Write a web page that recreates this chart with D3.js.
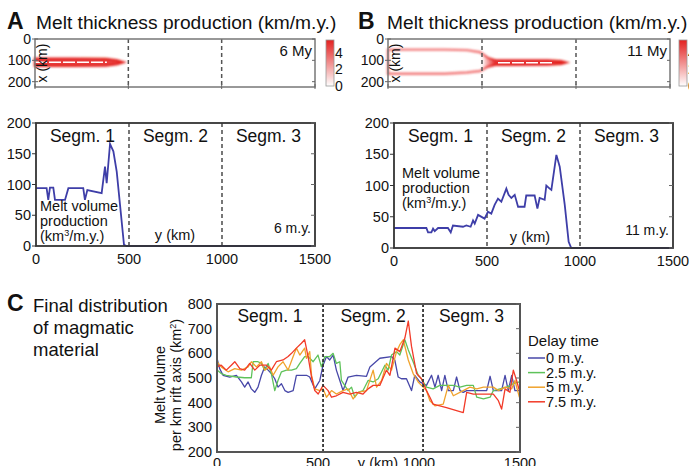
<!DOCTYPE html>
<html lang="en">
<head>
<meta charset="UTF-8"/>
<title>Melt production along the rift</title>
<script src="https://cdn.jsdelivr.net/npm/d3@7"></script>
<style>
  body { margin: 0; background: #fff; }
  text { font-family: "Liberation Sans", Arial, sans-serif; fill: #111; }
</style>
</head>
<body>
<script>

var w = 689, h = 466;

// melt volume production along the axis (km3/m.y.) at 6 and 11 m.y.
var volA_y = [0, 57, 66, 75, 93, 102, 156, 174, 254, 263, 276, 353, 371, 380, 398, 416, 434, 452, 473, 487, 1500];
var volA_v = [94, 94, 75, 95, 95, 75, 75, 94, 94, 75, 91, 86, 129, 102, 166, 154, 121, 66, 2, 0, 0];

var volB_y = [0, 174, 183, 201, 210, 219, 237, 290, 305, 317, 371, 389, 412, 425, 434, 452, 487, 505, 523, 541,
              559, 577, 604, 616, 631, 649, 667, 702, 711, 756, 771, 783, 810, 819, 837, 846, 873, 891, 918, 939, 953, 1500];
var volB_v = [32, 32, 25, 25, 31, 27, 32, 32, 25, 36, 34, 36, 34, 44, 39, 53, 47, 58, 55, 69,
              79, 74, 95, 85, 80, 85, 66, 66, 84, 84, 63, 80, 77, 100, 95, 93, 149, 130, 69, 10, 0, 0];

// melt band outline in the thickness maps (along-axis km, upper / lower edge in x km)
var bandA_y   = [0, 200, 380, 440, 472];
var bandA_top = [92, 92, 93, 100, 109];
var bandA_bot = [126, 126, 125, 118, 109];

var bandB_y   = [0, 300, 420, 490, 530, 570, 850, 920, 945];
var bandB_top = [50, 50, 52, 62, 88, 100, 101, 104, 110];
var bandB_bot = [163, 163, 157, 150, 130, 121, 120, 116, 110];

var segNames = ["Segm. 1", "Segm. 2", "Segm. 3"];
var segBounds = [500, 1000];
var segBoundsC = [525, 1020];

// final distribution of magmatic material (km2) for each delay time
var delayNames = ["0 m.y.", "2.5 m.y.", "5 m.y.", "7.5 m.y."];
var delayColors = ["#4747a8", "#5ec25a", "#f0a22c", "#f23a28"];

var c0_y = [0,13,30,63,96,121,137,154,170,187,203,220,236,253,269,286,302,319,336,352,377,393,443,459,484,509,525,542,558,575,
            591,608,624,649,690,740,757,806,864,880,897,913,938,963,979,1004,1037,1062,1079,1095,1112,1128,1145,1170,1186,1203,1219,1236,1335,1352,
            1368,1409,1426,1442,1459,1475,1497];
var c0_v = [580,538,511,504,511,484,463,484,456,442,463,511,545,532,518,497,463,477,449,442,449,511,511,504,456,490,552,587,573,593,
            532,490,449,504,511,507,545,580,587,573,504,497,497,449,511,484,470,511,463,511,449,511,449,449,504,449,442,449,449,507,
            449,449,511,449,511,449,449];

var c1_y = [0,21,46,96,137,170,179,203,220,236,253,269,286,302,319,344,369,393,410,434,451,476,500,517,534,558,575,591,608,616,
            632,649,666,682,699,723,748,773,798,831,847,864,889,905,930,947,971,996,1012,1037,1070,1103,1170,1203,1236,1269,1286,1319,1352,1368,
            1401,1434,1467,1497];
var c1_v = [532,518,511,504,501,501,566,566,559,532,559,518,449,490,525,532,532,538,559,587,587,566,593,545,587,587,600,559,566,490,
            470,449,463,422,442,449,490,484,497,552,532,593,607,593,655,614,566,511,497,463,456,470,470,463,470,470,422,415,422,449,
            456,463,477,484];

var c2_y = [0,21,55,88,121,154,170,195,220,236,261,278,302,327,352,377,393,410,434,443,459,468,484,509,525,542,567,591,624,649,
            674,699,740,773,790,815,839,864,889,905,922,947,971,996,1012,1037,1054,1079,1120,1145,1170,1219,1252,1286,1319,1368,1393,1426,1459,1475,
            1497];
var c2_v = [566,545,525,538,532,545,566,545,566,532,545,511,545,566,532,587,621,593,621,580,607,511,456,449,456,422,449,435,449,456,
            415,442,449,532,463,490,559,532,607,635,655,573,518,484,470,449,408,387,394,470,428,449,463,456,463,463,449,463,456,490,
            422];

var c3_y = [0,21,46,71,88,113,137,162,187,212,245,269,294,327,352,369,393,418,434,451,468,484,501,525,550,567,591,624,657,690,
            723,748,773,806,839,856,881,905,930,947,963,988,1012,1037,1054,1070,1136,1219,1236,1269,1368,1393,1409,1426,1450,1467,1483,1497];
var c3_v = [545,552,532,552,566,538,532,559,532,552,552,532,566,573,587,600,621,641,655,587,504,449,435,470,449,422,428,442,435,442,
            435,456,470,470,532,511,621,607,662,731,628,518,497,449,422,394,380,360,442,435,435,408,374,456,442,532,490,449];

var seriesY = [c0_y, c1_y, c2_y, c3_y];
var seriesV = [c0_v, c1_v, c2_v, c3_v];

var svg = d3.select("body").append("svg")
            .attr("width", w)
            .attr("height", h);

var defs = svg.append("defs");
defs.append("filter").attr("id", "glow")
    .attr("x", "-10%").attr("y", "-50%").attr("width", "120%").attr("height", "200%")
    .append("feGaussianBlur").attr("stdDeviation", 0.8);

var cbGrad = defs.append("linearGradient").attr("id", "cbGrad")
                 .attr("x1", 0).attr("y1", 1).attr("x2", 0).attr("y2", 0);
cbGrad.append("stop").attr("offset", "0%").attr("stop-color", "#ffffff");
cbGrad.append("stop").attr("offset", "100%").attr("stop-color", "#e3201f");

function pairs(ys, vs) {
  return ys.map(function(d, i) { return [d, vs[i]]; });
}

function title(x0, letter, txt) {
  svg.append("text").attr("x", x0).attr("y", 29)
     .style("font-size", "23px").style("font-weight", "bold").text(letter);
  svg.append("text").attr("x", x0 + 29).attr("y", 29)
     .style("font-size", "19.2px").text(txt);
}

// thickness map with melt band
function mapPanel(o) {
  var x = d3.scaleLinear().domain([0, 1500]).range([o.l, o.r]);
  var y = d3.scaleLinear().domain([0, 225]).range([o.t, o.b]);
  var g = svg.append("g");

  // band colour: pale where the band is wide, strong where it is narrow
  var gid = "band" + o.id;
  var grad = defs.append("linearGradient").attr("id", gid)
                 .attr("gradientUnits", "userSpaceOnUse")
                 .attr("x1", o.l).attr("x2", o.r).attr("y1", 0).attr("y2", 0);
  var fillGrad = defs.append("linearGradient").attr("id", gid + "f")
                 .attr("gradientUnits", "userSpaceOnUse")
                 .attr("x1", o.l).attr("x2", o.r).attr("y1", 0).attr("y2", 0);
  var f0 = o.fade ? (x(o.fade[0]) - o.l) / (o.r - o.l) : 0;
  var f1 = o.fade ? (x(o.fade[1]) - o.l) / (o.r - o.l) : 0;
  grad.append("stop").attr("offset", f0).attr("stop-color", o.fade ? "#f27a7a" : "#e3201f");
  grad.append("stop").attr("offset", f1).attr("stop-color", "#e3201f");
  fillGrad.append("stop").attr("offset", f0).attr("stop-color", "#e62828").attr("stop-opacity", o.fade ? 0 : 0.9);
  fillGrad.append("stop").attr("offset", f1).attr("stop-color", "#e62828").attr("stop-opacity", 0.9);

  var band = o.by.map(function(d, i) { return { y: d, top: o.top[i], bot: o.bot[i] }; });
  var area = d3.area()
               .x(function(d) { return x(d.y); })
               .y0(function(d) { return y(d.top); })
               .y1(function(d) { return y(d.bot); });

  g.append("path").datum(band)
   .attr("d", area)
   .attr("fill", "url(#" + gid + "f)")
   .attr("stroke", "url(#" + gid + ")")
   .attr("stroke-width", 2.4)
   .attr("filter", "url(#glow)");

  // white core along the centre of the narrow band
  g.append("line")
   .attr("x1", x(o.core[0])).attr("x2", x(o.core[1]))
   .attr("y1", y(o.core[2])).attr("y2", y(o.core[2]))
   .attr("stroke", "#fff").attr("stroke-width", 1.6)
   .attr("stroke-dasharray", "12,2");

  segBounds.forEach(function(s) {
    g.append("line").attr("x1", x(s)).attr("x2", x(s))
     .attr("y1", o.t).attr("y2", o.b)
     .attr("stroke", "#555").attr("stroke-width", 1.5)
     .attr("stroke-dasharray", "4,3");
  });

  g.append("rect").attr("x", o.l).attr("y", o.t)
   .attr("width", o.r - o.l).attr("height", o.b - o.t)
   .attr("fill", "none").attr("stroke", "#777").attr("stroke-width", 1.5);

  [0, 100, 200].forEach(function(t) {
    g.append("line").attr("x1", o.l - 3).attr("x2", o.l + 3)
     .attr("y1", y(t)).attr("y2", y(t)).attr("stroke", "#666");
    g.append("line").attr("x1", o.r - 3).attr("x2", o.r)
     .attr("y1", y(t)).attr("y2", y(t)).attr("stroke", "#666");
    g.append("text").attr("x", o.l - 4).attr("y", y(t) + 5)
     .attr("text-anchor", "end").style("font-size", "14px").text(t);
  });
  [0, 500, 1000, 1500].forEach(function(t) {
    g.append("line").attr("x1", x(t)).attr("x2", x(t))
     .attr("y1", o.b - 3).attr("y2", o.b + 2).attr("stroke", "#666");
  });

  g.append("text")
   .attr("transform", "translate(" + (o.l + 12) + "," + ((o.t + o.b) / 2) + ") rotate(-90)")
   .attr("text-anchor", "middle").style("font-size", "14px").text("x (km)");

  g.append("text").attr("x", o.r - 3).attr("y", o.t + 17)
   .attr("text-anchor", "end").style("font-size", "15px").text(o.time);

  // colour bar
  var cb = d3.scaleLinear().domain([0, 5.5]).range([86, 40]);
  g.append("rect").attr("x", o.cbx).attr("y", cb(5.5))
   .attr("width", 8).attr("height", cb(0) - cb(5.5))
   .attr("fill", "url(#cbGrad)").attr("stroke", "#999").attr("stroke-width", 0.8);
  [0, 2, 4].forEach(function(t) {
    g.append("text").attr("x", o.cbx + 9).attr("y", cb(t) + 5)
     .style("font-size", "14px").text(t);
  });
}

// melt volume production profile
function volumePanel(o) {
  var x = d3.scaleLinear().domain([0, 1500]).range([o.l, o.r]);
  var y = d3.scaleLinear().domain([0, 200]).range([o.b, o.t]);
  var g = svg.append("g");

  segBounds.forEach(function(s) {
    g.append("line").attr("x1", x(s)).attr("x2", x(s))
     .attr("y1", o.t).attr("y2", o.b)
     .attr("stroke", "#555").attr("stroke-width", 1.6)
     .attr("stroke-dasharray", "4,3");
  });

  var line = d3.line()
               .x(function(d) { return x(d[0]); })
               .y(function(d) { return y(d[1]); });
  g.append("path").datum(pairs(o.ys, o.vs))
   .attr("d", line).attr("fill", "none")
   .attr("stroke", "#3e3ea8").attr("stroke-width", 1.8);

  g.append("rect").attr("x", o.l).attr("y", o.t)
   .attr("width", o.r - o.l).attr("height", o.b - o.t)
   .attr("fill", "none").attr("stroke", "#333").attr("stroke-width", 1.8);

  y.ticks(4).forEach(function(t) {
    g.append("line").attr("x1", o.l - 4).attr("x2", o.l)
     .attr("y1", y(t)).attr("y2", y(t)).attr("stroke", "#333");
    g.append("line").attr("x1", o.r - 4).attr("x2", o.r)
     .attr("y1", y(t)).attr("y2", y(t)).attr("stroke", "#666");
    g.append("text").attr("x", o.l - 5).attr("y", y(t) + 5)
     .attr("text-anchor", "end").style("font-size", "14.5px").text(t);
  });
  [0, 500, 1000, 1500].forEach(function(t) {
    g.append("text").attr("x", x(t)).attr("y", o.b + 18)
     .attr("text-anchor", "middle").style("font-size", "14.5px").text(t);
  });

  var bounds = [0].concat(segBounds, [1500]);
  segNames.forEach(function(s, i) {
    g.append("text").attr("x", (x(bounds[i]) + x(bounds[i + 1])) / 2).attr("y", o.t + 19)
     .attr("text-anchor", "middle").style("font-size", "17.5px").text(s);
  });

  var lab = g.append("text").style("font-size", "14.5px");
  lab.append("tspan").attr("x", o.labX).attr("y", o.labY).text("Melt volume");
  lab.append("tspan").attr("x", o.labX).attr("y", o.labY + 15).text("production");
  lab.append("tspan").attr("x", o.labX).attr("y", o.labY + 30).text("(km");
  lab.append("tspan").attr("dy", -5).style("font-size", "9px").text("3");
  lab.append("tspan").attr("dy", 5).text("/m.y.)");

  g.append("text").attr("x", o.ykmX).attr("y", o.b - 6)
   .attr("text-anchor", "middle").style("font-size", "14.5px").text("y (km)");
  g.append("text").attr("x", o.r - 4).attr("y", o.b - 13)
   .attr("text-anchor", "end").style("font-size", "14px").text(o.time);
}

title(7, "A", "Melt thickness production (km/m.y.)");
title(358, "B", "Melt thickness production (km/m.y.)");

mapPanel({ id: "A", l: 35, r: 315, t: 39, b: 87, by: bandA_y, top: bandA_top, bot: bandA_bot,
           core: [0, 385, 109], fade: null, time: "6 My", cbx: 326 });
mapPanel({ id: "B", l: 388, r: 670, t: 39, b: 87, by: bandB_y, top: bandB_top, bot: bandB_bot,
           core: [585, 880, 111], fade: [500, 565], time: "11 My", cbx: 679 });

volumePanel({ l: 36, r: 315, t: 123, b: 246, ys: volA_y, vs: volA_v, time: "6 m.y.",
              labX: 40, labY: 211, ykmX: 175 });
volumePanel({ l: 394, r: 673, t: 123, b: 248, ys: volB_y, vs: volB_v, time: "11 m.y.",
              labX: 402, labY: 178, ykmX: 530 });

// panel C
(function() {
  var l = 217, r = 520, t = 304, b = 452;
  var x = d3.scaleLinear().domain([0, 1500]).range([l, r]);
  var y = d3.scaleLinear().domain([200, 800]).range([b, t]);
  var g = svg.append("g");

  svg.append("text").attr("x", 7).attr("y", 311)
     .style("font-size", "23px").style("font-weight", "bold").text("C");
  var tt = svg.append("text").style("font-size", "18.5px");
  ["Final distribution", "of magmatic", "material"].forEach(function(s, i) {
    tt.append("tspan").attr("x", 33).attr("y", 312 + i * 22).text(s);
  });

  var line = d3.line()
               .x(function(d) { return x(d[0]); })
               .y(function(d) { return y(d[1]); });
  seriesY.forEach(function(ys, i) {
    g.append("path").datum(pairs(ys, seriesV[i]))
     .attr("d", line).attr("fill", "none")
     .attr("stroke", delayColors[i]).attr("stroke-width", 1.3)
     .attr("stroke-linejoin", "round");
  });

  segBoundsC.forEach(function(s) {
    g.append("line").attr("x1", x(s)).attr("x2", x(s))
     .attr("y1", t).attr("y2", b)
     .attr("stroke", "#333").attr("stroke-width", 1.8)
     .attr("stroke-dasharray", "3,2");
  });

  g.append("rect").attr("x", l).attr("y", t)
   .attr("width", r - l).attr("height", b - t)
   .attr("fill", "none").attr("stroke", "#555").attr("stroke-width", 2);

  y.ticks(6).forEach(function(v) {
    g.append("line").attr("x1", r - 4).attr("x2", r)
     .attr("y1", y(v)).attr("y2", y(v)).attr("stroke", "#666");
    g.append("text").attr("x", l - 5).attr("y", y(v) + 5)
     .attr("text-anchor", "end").style("font-size", "14.5px").text(v);
  });
  [0, 500, 1000, 1500].forEach(function(v) {
    g.append("text").attr("x", x(v)).attr("y", b + 16)
     .attr("text-anchor", "middle").style("font-size", "14.5px").text(v);
  });
  g.append("text").attr("x", 378).attr("y", b + 16)
   .attr("text-anchor", "middle").style("font-size", "14.5px").text("y (km)");

  var bounds = [0].concat(segBoundsC, [1500]);
  segNames.forEach(function(s, i) {
    g.append("text").attr("x", (x(bounds[i]) + x(bounds[i + 1])) / 2).attr("y", t + 18)
     .attr("text-anchor", "middle").style("font-size", "17.5px").text(s);
  });

  g.append("text").attr("transform", "translate(165,385) rotate(-90)")
   .attr("text-anchor", "middle").style("font-size", "14.5px").text("Melt volume");
  var yl = g.append("text").attr("transform", "translate(181,385) rotate(-90)")
            .attr("text-anchor", "middle").style("font-size", "14.5px");
  yl.append("tspan").text("per km rift axis (km");
  yl.append("tspan").attr("dy", -5).style("font-size", "9px").text("2");
  yl.append("tspan").attr("dy", 5).text(")");

  // legend
  g.append("text").attr("x", 528).attr("y", 346).style("font-size", "15px").text("Delay time");
  delayNames.forEach(function(s, i) {
    var yy = 358 + i * 14.6;
    g.append("line").attr("x1", 528).attr("x2", 545).attr("y1", yy).attr("y2", yy)
     .attr("stroke", delayColors[i]).attr("stroke-width", 1.5);
    g.append("text").attr("x", 546).attr("y", yy + 5).style("font-size", "14.5px").text(s);
  });
})();

</script>
</body>
</html>
